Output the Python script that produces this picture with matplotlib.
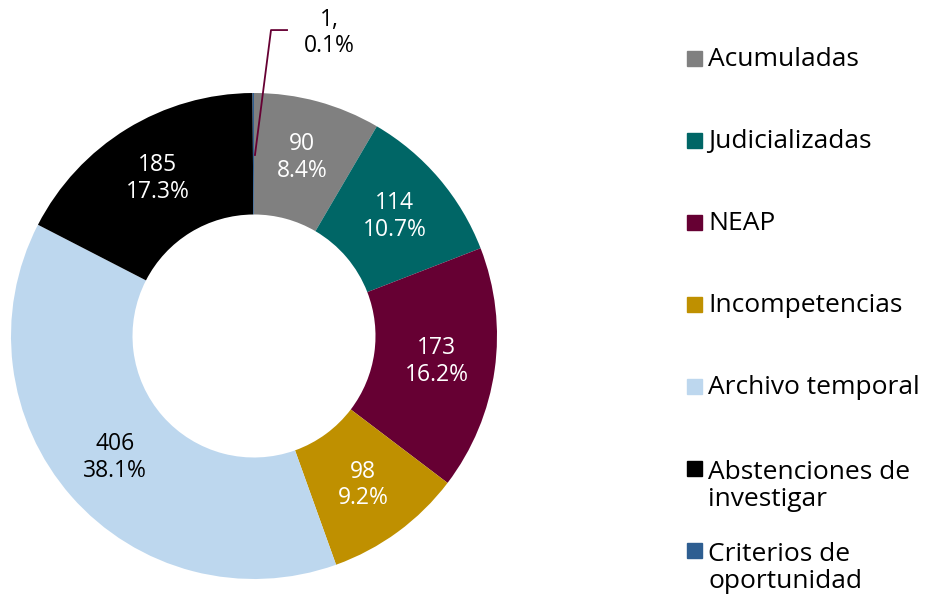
import numpy as np
import matplotlib.pyplot as plt
from matplotlib.patches import Rectangle

plt.rcParams['font.family'] = ['Open Sans', 'DejaVu Sans']

categorias = ['Acumuladas', 'Judicializadas', 'NEAP', 'Incompetencias',
              'Archivo temporal', 'Abstenciones de\ninvestigar',
              'Criterios de\noportunidad']
valores = [90, 114, 173, 98, 406, 185, 1]
porcentajes = ['8.4%', '10.7%', '16.2%', '9.2%', '38.1%', '17.3%', '0.1%']
colores = ['#808080', '#006666', '#660033', '#BF9000', '#BDD7EE', '#000000', '#2E5E91']

fig = plt.figure(figsize=(9.28, 5.94), dpi=100)
ax = fig.add_axes([11 / 928, 15 / 594, 486 / 928, 486 / 594])

wedges, _ = ax.pie(valores, colors=colores, startangle=90, counterclock=False,
                   radius=1, wedgeprops=dict(width=0.5, linewidth=0))
ax.set_xlim(-1, 1)
ax.set_ylim(-1, 1)

total = sum(valores)
acum = 0
for v, p in zip(valores, porcentajes):
    mid = 90 - (acum + v / 2) / total * 360
    acum += v
    if v < 10:
        # etiqueta externa con linea guia
        ax.plot([0.004, 0.07, 0.136], [0.745, 1.259, 1.259], color='#660033', lw=1.3,
                clip_on=False)
        ax.text(0.31, 1.247, f'{v},\n{p}', ha='center', va='center', fontsize=16.5,
                color='black', linespacing=1.15)
        continue
    r = 0.76
    x = r * np.cos(np.radians(mid))
    y = r * np.sin(np.radians(mid))
    ax.text(x, y, f'{v}\n{p}', ha='center', va='center', fontsize=16.5,
            color='white' if v != 406 else 'black', linespacing=1.15)

# leyenda manual
base = 66
for i, (lab, c) in enumerate(zip(categorias, colores)):
    yb = base + 82 * i
    fig.patches.append(Rectangle((687 / 928, 1 - yb / 594), 15 / 928, 15 / 594,
                                 transform=fig.transFigure, color=c))
    nl = lab.count('\n')
    fig.text(708 / 928, 1 - (yb + 30 * nl) / 594, lab, fontsize=19, va='baseline',
             ha='left', linespacing=1.1)

fig.savefig('out.png', dpi=100)
